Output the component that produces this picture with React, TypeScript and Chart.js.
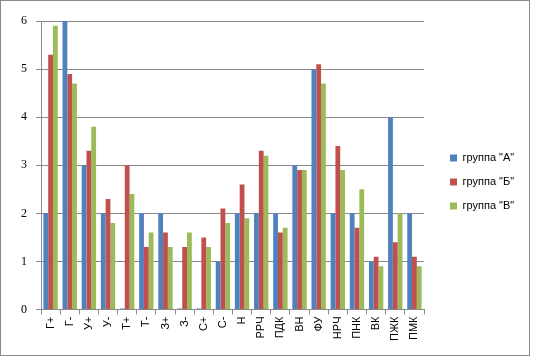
import React, { useEffect, useRef } from "react";
import { Chart, registerables } from "chart.js";

Chart.register(...registerables);

const categories = ["Г+", "Г-", "У+", "У-", "Т+", "Т-", "З+", "З-", "С+", "С-", "Н", "РРЧ", "ПДК", "ВН", "ФУ", "НРЧ", "ПНК", "ВК", "ПЖК", "ПМК"];
const groupA = [2, 6, 3, 2, 0, 2, 2, 0, 0, 1, 2, 2, 2, 3, 5, 2, 2, 1, 4, 2];
const groupB = [5.3, 4.9, 3.3, 2.3, 3.0, 1.3, 1.6, 1.3, 1.5, 2.1, 2.6, 3.3, 1.6, 2.9, 5.1, 3.4, 1.7, 1.1, 1.4, 1.1];
const groupV = [5.9, 4.7, 3.8, 1.8, 2.4, 1.6, 1.3, 1.6, 1.3, 1.8, 1.9, 3.2, 1.7, 2.9, 4.7, 2.9, 2.5, 0.9, 2.0, 0.9];
const seriesNames = ['группа "А"', 'группа "Б"', 'группа "В"'];
const yTicks = [0, 1, 2, 3, 4, 5, 6];

const borderPlugin = {
  id: "outerBorder",
  afterDraw(chart: any) {
    const ctx = chart.ctx;
    ctx.save();
    ctx.strokeStyle = "#8a8a8a";
    ctx.lineWidth = 1;
    ctx.strokeRect(0.5, 0.5, chart.width - 4, chart.height - 2);
    ctx.restore();
  },
};

export default function App() {
  const ref = useRef<HTMLCanvasElement>(null);
  useEffect(() => {
    document.body.style.margin = "0";
    const chart = new Chart(ref.current as HTMLCanvasElement, {
      type: "bar",
      data: {
        labels: categories,
        datasets: [
          { label: seriesNames[0], data: groupA, backgroundColor: "#4F81BD", minBarLength: 1 },
          { label: seriesNames[1], data: groupB, backgroundColor: "#C0504D" },
          { label: seriesNames[2], data: groupV, backgroundColor: "#9BBB59" },
        ],
      },
      options: {
        responsive: false,
        animation: false,
        layout: { padding: { left: 12, top: 21, right: 11, bottom: 14 } },
        datasets: { bar: { categoryPercentage: 0.75, barPercentage: 1 } },
        plugins: {
          legend: {
            position: "right",
            labels: {
              boxWidth: 7,
              boxHeight: 7,
              padding: 13,
              color: "#000",
              font: { family: "Liberation Sans", size: 11 },
            },
          },
          tooltip: { enabled: false },
        },
        scales: {
          x: {
            grid: { offset: true, drawOnChartArea: false, drawTicks: true, tickLength: 5, color: "#8a8a8a" },
            border: { color: "#8a8a8a" },
            ticks: {
              minRotation: 90,
              maxRotation: 90,
              autoSkip: false,
              color: "#000",
              padding: 2,
              font: { family: "Liberation Sans", size: 11 },
            },
          },
          y: {
            min: 0,
            max: 6,
            afterBuildTicks(scale: any) {
              scale.ticks = yTicks.map((v) => ({ value: v }));
            },
            grid: { color: "#8a8a8a", tickLength: 5 },
            border: { color: "#8a8a8a" },
            ticks: {
              color: "#000",
              padding: 9,
              font: { family: "Liberation Serif", size: 12 },
            },
          },
          yGap: {
            position: "right",
            display: true,
            min: 0,
            max: 6,
            grid: { display: false, drawTicks: false },
            border: { display: false },
            ticks: { display: false },
            afterFit(scale: any) {
              scale.width = 13;
            },
          },
        },
      },
      plugins: [borderPlugin],
    });
    return () => chart.destroy();
  }, []);
  return <canvas ref={ref} width={533} height={357} />;
}
